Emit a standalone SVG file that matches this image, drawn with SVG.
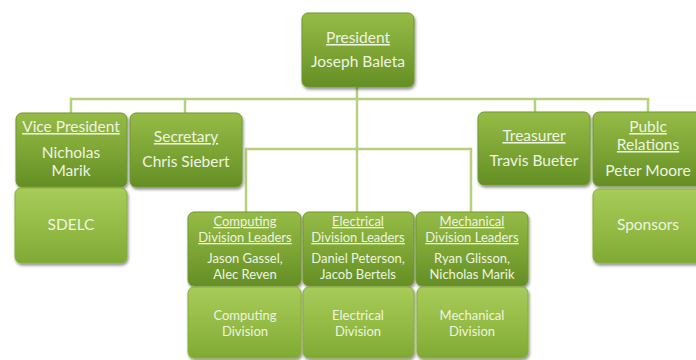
<svg xmlns="http://www.w3.org/2000/svg" width="696" height="360" viewBox="0 0 696 360">
<defs>
<linearGradient id="gDark" x1="0" y1="0" x2="0" y2="1">
<stop offset="0" stop-color="#96bb47"/>
<stop offset="0.5" stop-color="#7ea635"/>
<stop offset="1" stop-color="#648e25"/>
</linearGradient>
<linearGradient id="gLight" x1="0" y1="0" x2="0" y2="1">
<stop offset="0" stop-color="#a8cb5a"/>
<stop offset="0.5" stop-color="#95bc46"/>
<stop offset="1" stop-color="#80a935"/>
</linearGradient>
<filter id="sh" x="-10%" y="-10%" width="125%" height="130%">
<feGaussianBlur in="SourceAlpha" stdDeviation="1.5"/>
<feOffset dx="1" dy="2" result="b"/>
<feComponentTransfer><feFuncA type="linear" slope="0.45"/></feComponentTransfer>
<feMerge><feMergeNode/><feMergeNode in="SourceGraphic"/></feMerge>
</filter>
</defs>
<style>
.dark{fill:url(#gDark);stroke:#6f9a2c;stroke-width:1;filter:url(#sh)}
.light{fill:url(#gLight);stroke:#86ae3a;stroke-width:1;filter:url(#sh)}
text{font-family:Lato,"Open Sans","Liberation Sans",sans-serif;fill:#eef4e0;text-anchor:middle}
.t{font-size:15.5px}
.s{font-size:13px}
.u{text-decoration:underline}
.conn{stroke:#b6d080;stroke-width:2.5;fill:none}
</style>
<rect width="696" height="360" fill="#ffffff"/>
<g id="connectors" class="conn">
<path d="M357 87 V212"/>
<path d="M71 113 V99 H648 V112"/>
<path d="M185 99 V113"/>
<path d="M535 99 V112"/>
<path d="M246 212 V149 H471 V212"/>
</g>
<g id="president">
<rect class="dark" x="302" y="13" width="112" height="74" rx="6"/>
<text class="t u" x="358" y="43">President</text>
<text class="t" x="358" y="67">Joseph Baleta</text>
</g>
<g id="vice-president">
<rect class="dark" x="16" y="113" width="111" height="74" rx="6"/>
<text class="t u" x="71" y="132">Vice President</text>
<text class="t" x="71" y="158">Nicholas</text>
<text class="t" x="71" y="176">Marik</text>
</g>
<g id="secretary">
<rect class="dark" x="130" y="113" width="112" height="74" rx="6"/>
<text class="t u" x="186" y="142">Secretary</text>
<text class="t" x="186" y="167">Chris Siebert</text>
</g>
<g id="sdelc">
<rect class="light" x="15" y="188" width="112" height="75" rx="6"/>
<text class="t" x="71" y="230">SDELC</text>
</g>
<g id="treasurer">
<rect class="dark" x="478" y="112" width="112" height="73" rx="6"/>
<text class="t u" x="534" y="141">Treasurer</text>
<text class="t" x="534" y="166">Travis Bueter</text>
</g>
<g id="public-relations">
<rect class="dark" x="593" y="112" width="110" height="74" rx="6"/>
<text class="t u" x="648" y="132">Publc</text>
<text class="t u" x="648" y="150">Relations</text>
<text class="t" x="648" y="176">Peter Moore</text>
</g>
<g id="sponsors">
<rect class="light" x="593" y="189" width="110" height="74" rx="6"/>
<text class="t" x="648" y="230">Sponsors</text>
</g>
<g id="computing-leaders">
<rect class="dark" x="188" y="212" width="113" height="74" rx="6"/>
<text class="s u" x="245" y="226">Computing</text>
<text class="s u" x="245" y="242">Division Leaders</text>
<text class="s" x="245" y="263">Jason Gassel,</text>
<text class="s" x="245" y="279">Alec Reven</text>
</g>
<g id="electrical-leaders">
<rect class="dark" x="303" y="212" width="111" height="74" rx="6"/>
<text class="s u" x="358" y="226">Electrical</text>
<text class="s u" x="358" y="242">Division Leaders</text>
<text class="s" x="358" y="263">Daniel Peterson,</text>
<text class="s" x="358" y="279">Jacob Bertels</text>
</g>
<g id="mechanical-leaders">
<rect class="dark" x="416" y="212" width="112" height="74" rx="6"/>
<text class="s u" x="472" y="226">Mechanical</text>
<text class="s u" x="472" y="242">Division Leaders</text>
<text class="s" x="472" y="263">Ryan Glisson,</text>
<text class="s" x="472" y="279">Nicholas Marik</text>
</g>
<g id="computing-division">
<rect class="light" x="188" y="287" width="113" height="71" rx="6"/>
<text class="s" x="245" y="320">Computing</text>
<text class="s" x="245" y="336">Division</text>
</g>
<g id="electrical-division">
<rect class="light" x="303" y="287" width="111" height="71" rx="6"/>
<text class="s" x="358" y="320">Electrical</text>
<text class="s" x="358" y="336">Division</text>
</g>
<g id="mechanical-division">
<rect class="light" x="417" y="287" width="111" height="71" rx="6"/>
<text class="s" x="472" y="320">Mechanical</text>
<text class="s" x="472" y="336">Division</text>
</g>
</svg>
